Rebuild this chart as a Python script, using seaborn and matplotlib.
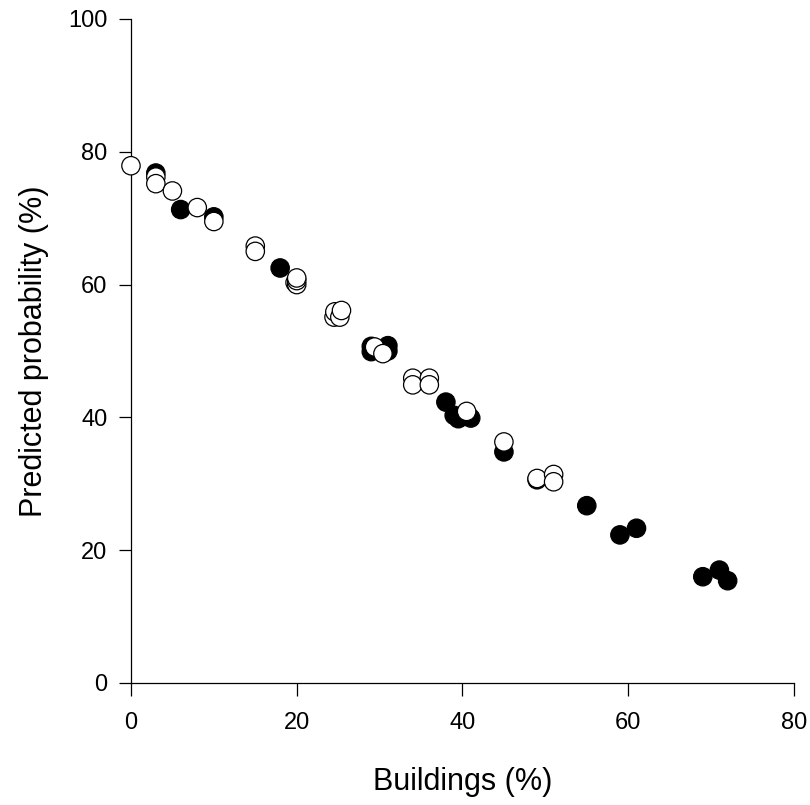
import pandas as pd
import matplotlib
matplotlib.use('Agg')
import matplotlib.pyplot as plt
import seaborn as sns

# Filled markers (black)
filled_x = [3, 6, 10, 18, 29, 29, 31, 31, 38, 39, 39.5, 41, 45, 49, 55, 59, 61, 69, 71, 72]
filled_y = [76.8, 71.3, 70.2, 62.5, 50.7, 49.9, 50.8, 50.0, 42.3, 40.3, 39.8, 39.9, 34.8, 30.6,
            26.7, 22.3, 23.3, 16.0, 17.0, 15.4]

# Open markers (white)
open_x = [0, 3, 3, 5, 8, 10, 15, 15, 19.8, 20, 20, 20, 24.5, 24.6, 25.2, 25.4, 29.4, 30.4,
          34, 34, 36, 36, 40.5, 45, 49, 51, 51]
open_y = [77.9, 76.2, 75.2, 74.1, 71.6, 69.5, 65.8, 65.0, 60.3, 60.0, 60.6, 61.0, 55.1, 55.9,
          55.1, 56.1, 50.6, 49.6, 45.9, 44.9, 45.9, 44.9, 40.9, 36.3, 30.8, 31.4, 30.3]

df = pd.DataFrame({
    'buildings': filled_x + open_x,
    'prob': filled_y + open_y,
    'group': ['filled'] * len(filled_x) + ['open'] * len(open_x),
})

sns.set_style('white')
plt.rcParams['font.family'] = ['Liberation Sans', 'DejaVu Sans']

fig = plt.figure(figsize=(8.1, 8.05), dpi=100)
ax = fig.add_axes([0.1617, 0.1516, 0.8185, 0.8248])

sns.scatterplot(data=df, x='buildings', y='prob', hue='group',
                palette={'filled': 'black', 'open': 'white'},
                edgecolor='black', linewidth=0.9, s=175, legend=False,
                clip_on=False, zorder=3, ax=ax)

ax.set_xlim(0, 80)
ax.set_ylim(0, 100)
ax.set_xticks([0, 20, 40, 60, 80])
ax.set_yticks([0, 20, 40, 60, 80, 100])
ax.set_xlabel('Buildings (%)', fontsize=22, labelpad=24, color='black')
ax.set_ylabel('Predicted probability (%)', fontsize=22, labelpad=14, color='black')
ax.tick_params(direction='out', length=9, width=0.9, labelsize=17, pad=8,
               bottom=True, left=True, colors='black')
ax.tick_params(axis='x', pad=12)

sns.despine(ax=ax)
for side in ['left', 'bottom']:
    ax.spines[side].set_color('black')
    ax.spines[side].set_linewidth(0.9)

plt.savefig('out.png', dpi=100)
plt.close()
